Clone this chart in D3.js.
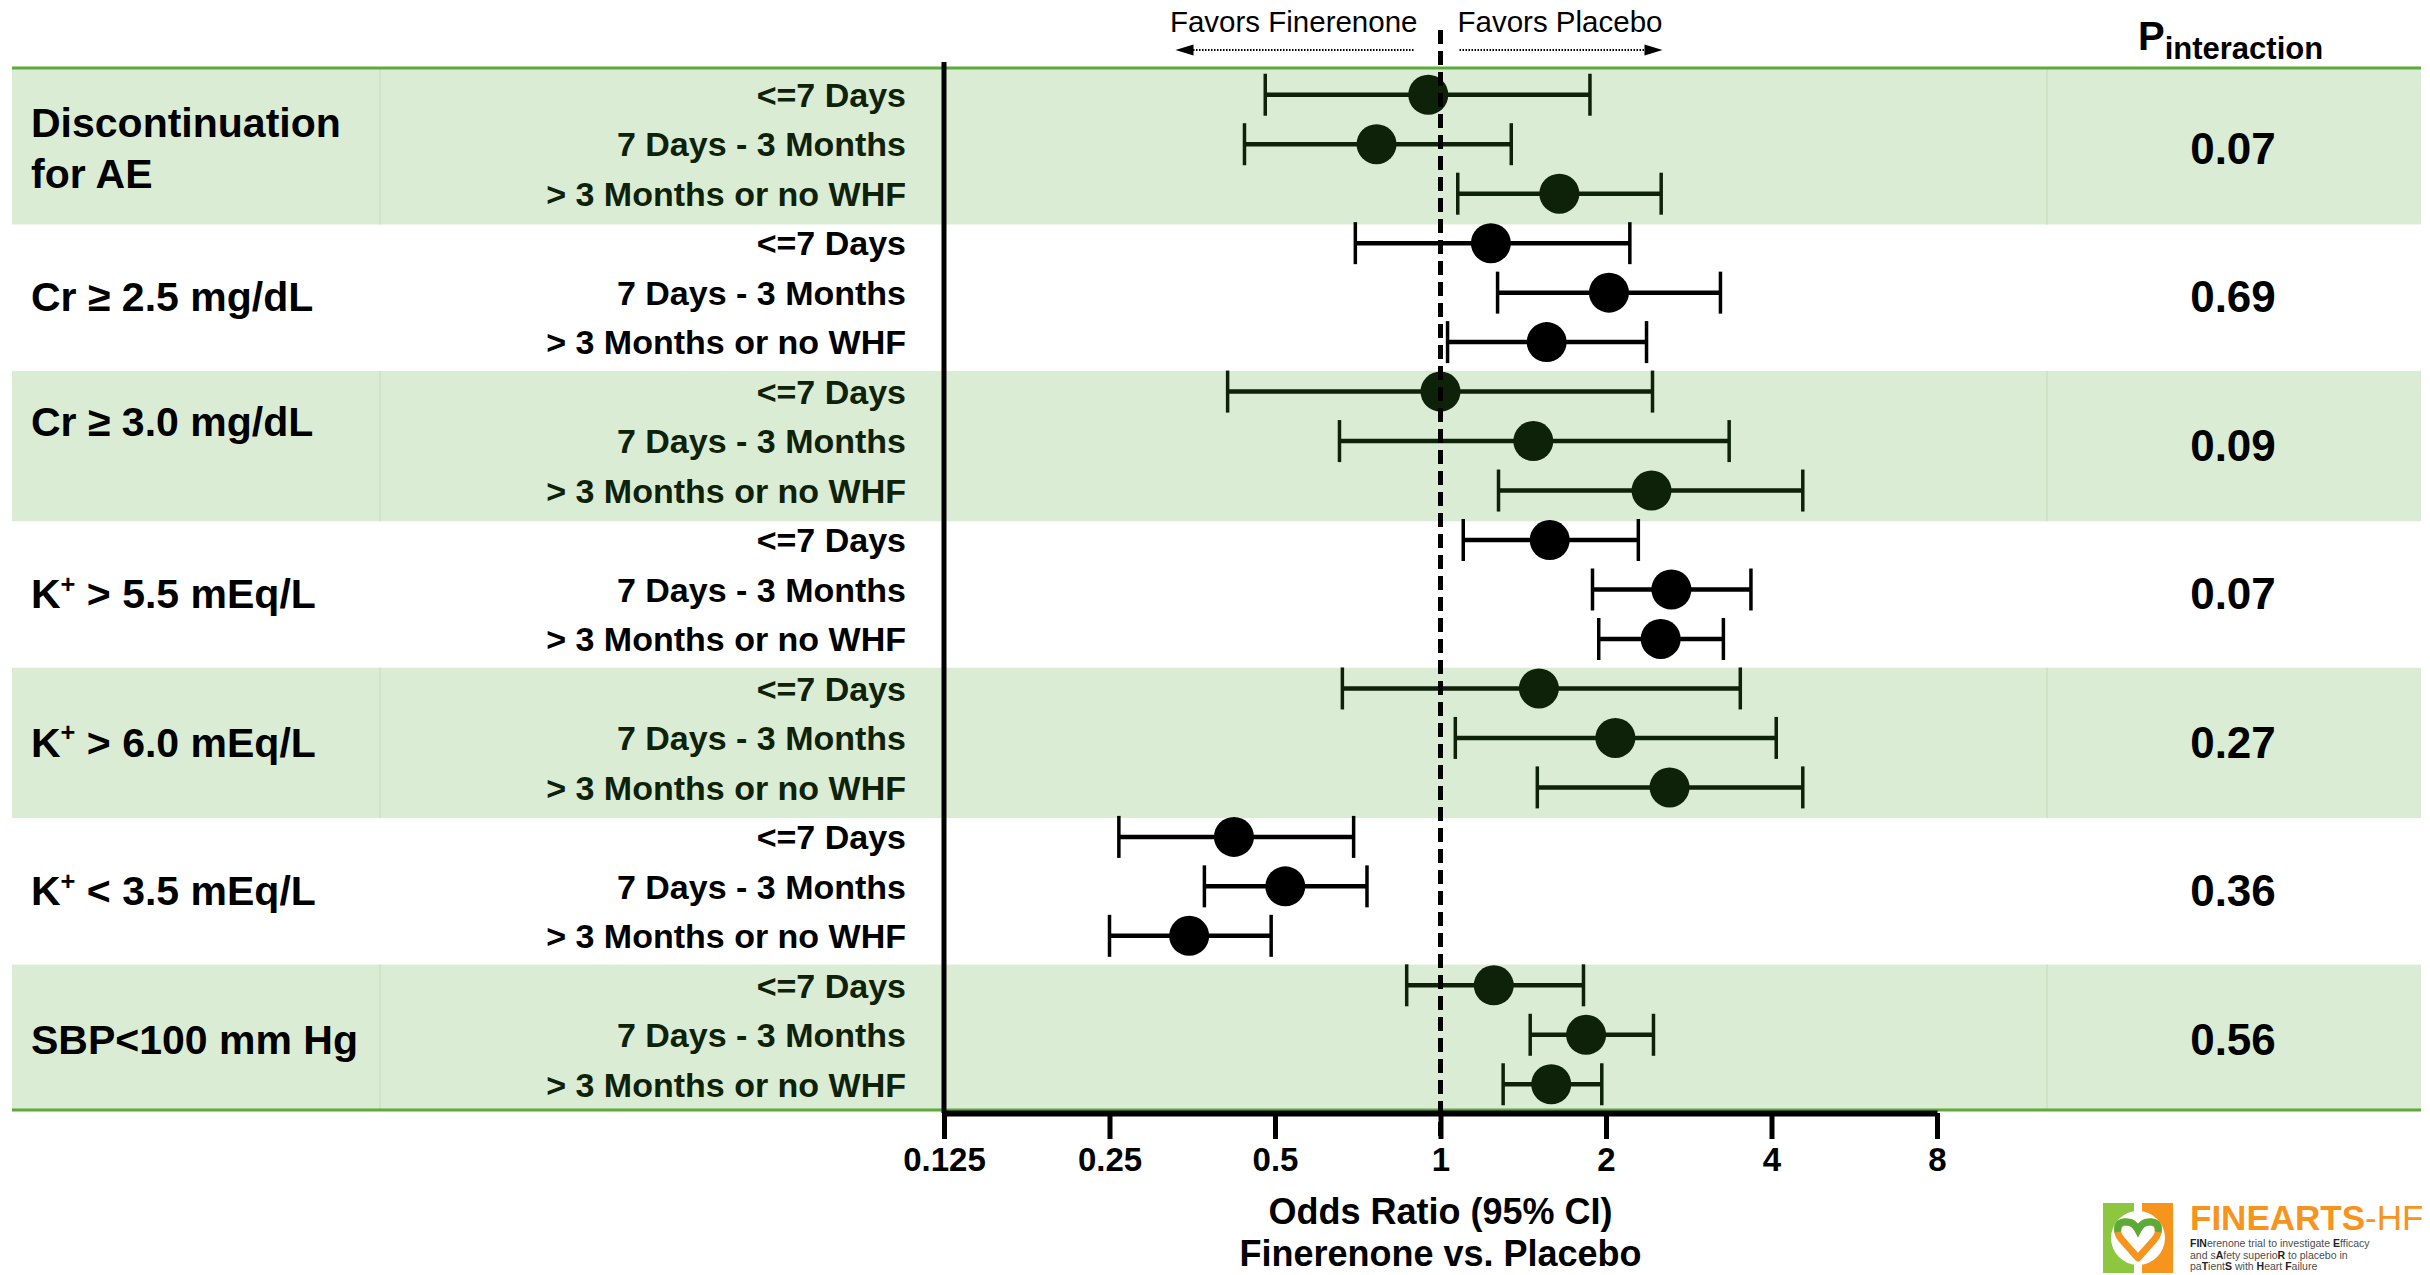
<!DOCTYPE html>
<meta charset="utf-8">
<script src="https://d3js.org/d3.v7.min.js"></script>
<style>
  body { margin: 0; background: #fff; }
  svg { display: block; }
</style>
<div id="chart"></div>
<script>

// subgroup names (one row per timing inside each group)
const groupLabels = [
  ["Discontinuation", "for AE"],
  ["Cr ≥ 2.5 mg/dL"],
  ["Cr ≥ 3.0 mg/dL"],
  ["K⁺ > 5.5 mEq/L"],
  ["K⁺ > 6.0 mEq/L"],
  ["K⁺ < 3.5 mEq/L"],
  ["SBP<100 mm Hg"]
];
const timings = ["<=7 Days", "7 Days - 3 Months", "> 3 Months or no WHF"];

// odds ratios and 95% CI
const oddsRatio = [
  [0.95, 0.765, 1.645],
  [1.235, 2.025, 1.56],
  [1.0, 1.475, 2.42],
  [1.58, 2.63, 2.515],
  [1.51, 2.08, 2.61],
  [0.421, 0.522, 0.349],
  [1.25, 1.84, 1.59]
];
const ciLow = [
  [0.48, 0.44, 1.075],
  [0.70, 1.27, 1.03],
  [0.41, 0.655, 1.275],
  [1.10, 1.89, 1.94],
  [0.663, 1.064, 1.50],
  [0.26, 0.372, 0.25],
  [0.868, 1.456, 1.30]
];
const ciHigh = [
  [1.87, 1.345, 2.52],
  [2.21, 3.23, 2.37],
  [2.43, 3.35, 4.56],
  [2.29, 3.67, 3.27],
  [3.51, 4.08, 4.56],
  [0.695, 0.735, 0.492],
  [1.82, 2.44, 1.965]
];
const pInteraction = ["0.07", "0.69", "0.09", "0.07", "0.27", "0.36", "0.56"];

const xTicks = [0.125, 0.25, 0.5, 1, 2, 4, 8];
const xTickLabels = ["0.125", "0.25", "0.5", "1", "2", "4", "8"];

// ---- layout ----
const W = 2430, H = 1275;
const font = "'Liberation Sans', Arial, sans-serif";
const bandFill = "#dbecd5", lineGreen = "#5aab3a", darkGreen = "#0e2109";
const axisY = 1113;

const svg = d3.select("#chart")
  .append("svg")
    .attr("width", W)
    .attr("height", H)
    .style("font-family", font);

const x = d3.scaleLog().base(2)
  .domain([0.125, 8])
  .range([944, 1937]);

const nRows = groupLabels.length * timings.length;
const y = d3.scaleBand()
  .domain(d3.range(nRows))
  .range([70, 1109]);
const rowC = i => y(i) + y.bandwidth() / 2;

// flatten rows
const rows = [];
groupLabels.forEach((g, gi) => {
  timings.forEach((t, ti) => {
    rows.push({
      gi, ti, idx: gi * 3 + ti, label: t,
      or: oddsRatio[gi][ti], lo: ciLow[gi][ti], hi: ciHigh[gi][ti]
    });
  });
});
const colorOf = gi => gi % 2 === 0 ? darkGreen : "#000";

// green bands for every other group
const shaded = groupLabels.map((g, gi) => gi).filter(gi => gi % 2 === 0);
const bandTop = gi => gi === 0 ? 68 : y(gi * 3) + 4;
const bandBottom = gi => gi === groupLabels.length - 1 ? 1110 : y(gi * 3 + 2) + y.bandwidth() + 6;

svg.append("g").selectAll("rect")
  .data(shaded)
  .join("rect")
    .attr("x", 12)
    .attr("y", d => bandTop(d))
    .attr("width", 2409)
    .attr("height", d => bandBottom(d) - bandTop(d))
    .attr("fill", bandFill);

// faint column separators inside the bands
[380, 2047].forEach(cx => {
  svg.append("g").selectAll("line")
    .data(shaded)
    .join("line")
      .attr("x1", cx).attr("x2", cx)
      .attr("y1", d => bandTop(d))
      .attr("y2", d => bandBottom(d))
      .attr("stroke", "#cbe2c2")
      .attr("stroke-width", 1.5);
});

// green rules top and bottom of the table
[68, 1110].forEach(ly => {
  svg.append("line")
    .attr("x1", 12).attr("x2", 2421)
    .attr("y1", ly).attr("y2", ly)
    .attr("stroke", lineGreen)
    .attr("stroke-width", 3);
});

// left solid line at 0.125
svg.append("line")
  .attr("x1", x(0.125)).attr("x2", x(0.125))
  .attr("y1", 62).attr("y2", axisY)
  .attr("stroke", "#000")
  .attr("stroke-width", 5);

// group labels (Discontinuation etc.)
const labelNudge = {2: -24};
const groupCenter = gi => rowC(gi * 3 + 1) + 4;

function writeRich(sel, str, size) {
  // handles the superscript plus in K+
  const parts = str.split("⁺");
  sel.append("tspan").text(parts[0]);
  if (parts.length > 1) {
    sel.append("tspan").attr("dy", -size * 0.38).attr("font-size", size * 0.62).text("+");
    sel.append("tspan").attr("dy", size * 0.38).text(parts[1]);
  }
}

groupLabels.forEach((lines, gi) => {
  const cy = groupCenter(gi) + (labelNudge[gi] || 0);
  const lh = 51;
  lines.forEach((ln, li) => {
    const t = svg.append("text")
      .attr("x", 31)
      .attr("y", cy + (li - (lines.length - 1) / 2) * lh)
      .attr("dy", "0.36em")
      .attr("font-size", 41)
      .attr("font-weight", "bold")
      .attr("fill", "#000");
    writeRich(t, ln, 41);
  });
});

// row labels
svg.append("g").selectAll("text")
  .data(rows)
  .join("text")
    .attr("x", 906)
    .attr("y", d => rowC(d.idx))
    .attr("dy", "0.36em")
    .attr("text-anchor", "end")
    .attr("font-size", 34)
    .attr("font-weight", "bold")
    .attr("fill", d => colorOf(d.gi))
    .text(d => d.label);

// P interaction values
svg.append("g").selectAll("text")
  .data(pInteraction)
  .join("text")
    .attr("x", 2233)
    .attr("y", (d, i) => groupCenter(i))
    .attr("dy", "0.36em")
    .attr("text-anchor", "middle")
    .attr("font-size", 44)
    .attr("font-weight", "bold")
    .attr("fill", "#000")
    .text(d => d);

// P interaction header
const ph = svg.append("text")
  .attr("x", 2138)
  .attr("y", 50)
  .attr("font-weight", "bold")
  .attr("fill", "#000");
ph.append("tspan").attr("font-size", 40).text("P");
ph.append("tspan").attr("font-size", 31).attr("dy", 9).text("interaction");

// error bars
const bars = svg.append("g").selectAll("g")
  .data(rows)
  .join("g")
    .attr("stroke", d => colorOf(d.gi));

bars.append("line")
  .attr("x1", d => x(d.lo)).attr("x2", d => x(d.hi))
  .attr("y1", d => rowC(d.idx)).attr("y2", d => rowC(d.idx))
  .attr("stroke-width", 4.5);

bars.selectAll("line.cap")
  .data(d => [d.lo, d.hi].map(v => ({v, cy: rowC(d.idx)})))
  .join("line")
    .attr("class", "cap")
    .attr("x1", d => x(d.v)).attr("x2", d => x(d.v))
    .attr("y1", d => d.cy - 21).attr("y2", d => d.cy + 21)
    .attr("stroke-width", 3.5);

bars.append("circle")
  .attr("cx", d => x(d.or))
  .attr("cy", d => rowC(d.idx))
  .attr("r", 20)
  .attr("stroke", "none")
  .attr("fill", d => colorOf(d.gi));

// reference line at OR = 1
svg.append("line")
  .attr("x1", x(1)).attr("x2", x(1))
  .attr("y1", 30).attr("y2", axisY + 26)
  .attr("stroke", "#000")
  .attr("stroke-width", 5)
  .attr("stroke-dasharray", "14,7");

// x axis
const axis = d3.axisBottom(x)
  .tickValues(xTicks)
  .tickFormat((d, i) => xTickLabels[i])
  .tickSize(26)
  .tickSizeOuter(0)
  .tickPadding(9);

const gx = svg.append("g")
  .attr("transform", `translate(0,${axisY})`)
  .call(axis);
gx.select(".domain").attr("stroke", "#000").attr("stroke-width", 6);
gx.selectAll(".tick line").attr("stroke", "#000").attr("stroke-width", 5);
gx.selectAll(".tick text")
  .attr("font-size", 33)
  .attr("font-weight", "bold")
  .attr("font-family", font)
  .attr("fill", "#000");

// axis title
["Odds Ratio (95% CI)", "Finerenone vs. Placebo"].forEach((s, i) => {
  svg.append("text")
    .attr("x", x(1))
    .attr("y", 1224 + i * 42)
    .attr("text-anchor", "middle")
    .attr("font-size", 36)
    .attr("font-weight", "bold")
    .attr("fill", "#000")
    .text(s);
});

// favors annotation above the plot
const x1 = x(1);
svg.append("text")
  .attr("x", x1 - 23).attr("y", 32)
  .attr("text-anchor", "end")
  .attr("font-size", 29.5)
  .attr("fill", "#000")
  .text("Favors Finerenone");
svg.append("text")
  .attr("x", x1 + 17).attr("y", 32)
  .attr("text-anchor", "start")
  .attr("font-size", 29.5)
  .attr("fill", "#000")
  .text("Favors Placebo");

const arrows = [
  {from: x1 - 27, to: x1 - 265, dir: -1},
  {from: x1 + 19, to: x1 + 222, dir: 1}
];
arrows.forEach(a => {
  svg.append("line")
    .attr("x1", a.from).attr("x2", a.to - a.dir * 16)
    .attr("y1", 50).attr("y2", 50)
    .attr("stroke", "#000")
    .attr("stroke-width", 2)
    .attr("stroke-dasharray", "1.5,1.5");
  svg.append("path")
    .attr("d", `M${a.to},50 L${a.to - a.dir * 18},44.5 L${a.to - a.dir * 18},55.5 Z`)
    .attr("fill", "#000");
});

// FINEARTS-HF logo, bottom right
const logo = svg.append("g");
logo.append("rect").attr("x", 2103).attr("y", 1203).attr("width", 35).attr("height", 70).attr("fill", "#8dc63f");
logo.append("rect").attr("x", 2138).attr("y", 1203).attr("width", 35).attr("height", 70).attr("fill", "#f7941d");
logo.append("rect").attr("x", 2134).attr("y", 1203).attr("width", 8).attr("height", 70).attr("fill", "#fff");
logo.append("circle").attr("cx", 2138).attr("cy", 1238).attr("r", 27).attr("fill", "#fff");
logo.append("path")
  .attr("d", "M2138,1258 L2122,1240 C2114,1231 2118,1222 2127,1222 C2132,1222 2136,1226 2138,1230 C2140,1226 2144,1222 2149,1222 C2158,1222 2162,1231 2154,1240 Z")
  .attr("fill", "none")
  .attr("stroke", "#f7941d")
  .attr("stroke-width", 7)
  .attr("stroke-linejoin", "round");
logo.append("path")
  .attr("d", "M2118,1232 C2116,1224 2121,1221 2127,1222 C2132,1222 2136,1226 2138,1230 C2140,1226 2144,1222 2149,1222 C2155,1221 2160,1224 2158,1232")
  .attr("fill", "none")
  .attr("stroke", "#5aab3a")
  .attr("stroke-width", 7);

const brand = logo.append("text")
  .attr("x", 2190).attr("y", 1230)
  .attr("font-size", 35)
  .attr("fill", "#f7941d");
brand.append("tspan").attr("font-weight", "bold").text("FINEARTS");
brand.append("tspan").attr("font-weight", "normal").text("-HF");

["FINerenone trial to investigate Efficacy",
 "and sAfety superioR to placebo in",
 "paTientS with Heart Failure"].forEach((s, i) => {
  const t = logo.append("text")
    .attr("x", 2190).attr("y", 1247 + i * 11.5)
    .attr("font-size", 10.5)
    .attr("fill", "#4d4d4d");
  // capital letters of the acronym are bold
  s.match(/[A-Z]+|[^A-Z]+/g).forEach(p => {
    t.append("tspan")
      .attr("font-weight", /[A-Z]/.test(p) ? "bold" : "normal")
      .attr("fill", /[A-Z]/.test(p) ? "#222" : "#4d4d4d")
      .text(p);
  });
});

</script>
